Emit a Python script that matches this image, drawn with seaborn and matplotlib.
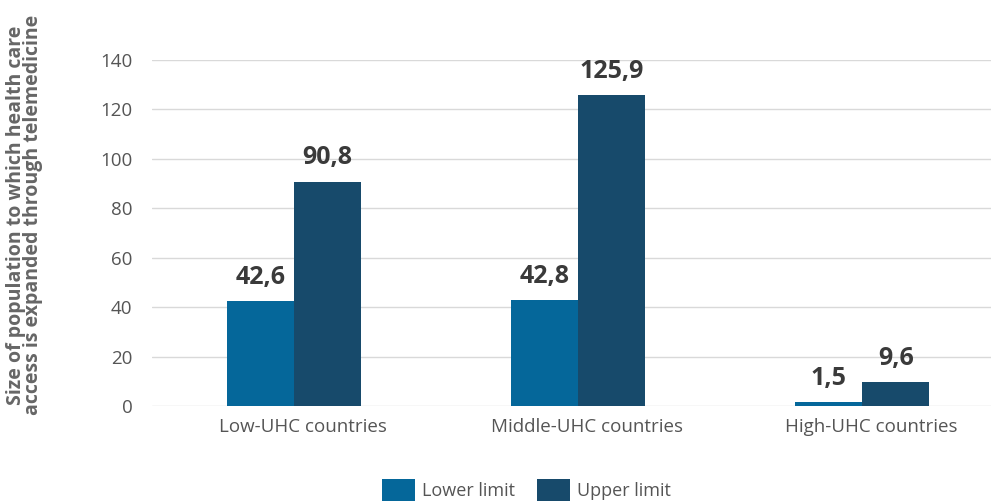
import matplotlib
matplotlib.use("Agg")
import matplotlib.pyplot as plt
import matplotlib.transforms as mtransforms
import seaborn as sns
import pandas as pd
from matplotlib.patches import Patch

categories = ["Low-UHC countries", "Middle-UHC countries", "High-UHC countries"]
lower_limit = [42.6, 42.8, 1.5]
upper_limit = [90.8, 125.9, 9.6]
series_names = ["Lower limit", "Upper limit"]
colors = ["#05679A", "#174A6B"]

df = pd.DataFrame({
    "category": categories * 2,
    "series": [series_names[0]] * 3 + [series_names[1]] * 3,
    "value": lower_limit + upper_limit,
})

sns.set_theme(style="white")
plt.rcParams["font.family"] = ["Open Sans", "DejaVu Sans"]

fig = plt.figure(figsize=(9.91, 5.03), dpi=100)
ax = fig.add_axes([152 / 991, 1 - 406 / 503, (1004 - 152) / 991, 346 / 503])

sns.barplot(data=df, x="category", y="value", hue="series", palette=colors,
            width=0.475, ax=ax, legend=False, saturation=1, edgecolor="none")

ax.set_ylim(0, 140)
ax.set_xlim(-0.5, 2.5)
ax.set_yticks(range(0, 141, 20))
ax.yaxis.grid(True, color="#d9d9d9", linewidth=1)
ax.set_axisbelow(True)
for s in ax.spines.values():
    s.set_visible(False)
ax.tick_params(axis="both", length=0, labelsize=13.5, labelcolor="#555555")
ax.tick_params(axis="y", pad=14)
ax.tick_params(axis="x", pad=9)
ax.set_xlabel("")
offset = mtransforms.ScaledTranslation(0.09, 0, fig.dpi_scale_trans)
for lbl in ax.get_xticklabels():
    lbl.set_transform(lbl.get_transform() + offset)
ax.set_ylabel("Size of population to which health care\naccess is expanded through telemedicine",
              fontsize=14, fontweight="bold", color="#666666", linespacing=0.82)
ax.yaxis.set_label_coords(-0.128, 0.552)

for cont in ax.containers:
    labels = [f"{v:.1f}".replace(".", ",") for v in cont.datavalues]
    ax.bar_label(cont, labels=labels, padding=8, fontsize=18, fontweight="bold", color="#3a3a3a")

handles = [Patch(facecolor=c, edgecolor="none") for c in colors]
fig.legend(handles, series_names, loc="center", bbox_to_anchor=(0.531, 1 - 490 / 503), ncol=2,
           frameon=False, fontsize=13, labelcolor="#555555", handlelength=1.83, handleheight=1.5,
           columnspacing=1.2, handletextpad=0.4)

fig.savefig("out.png", dpi=100)
